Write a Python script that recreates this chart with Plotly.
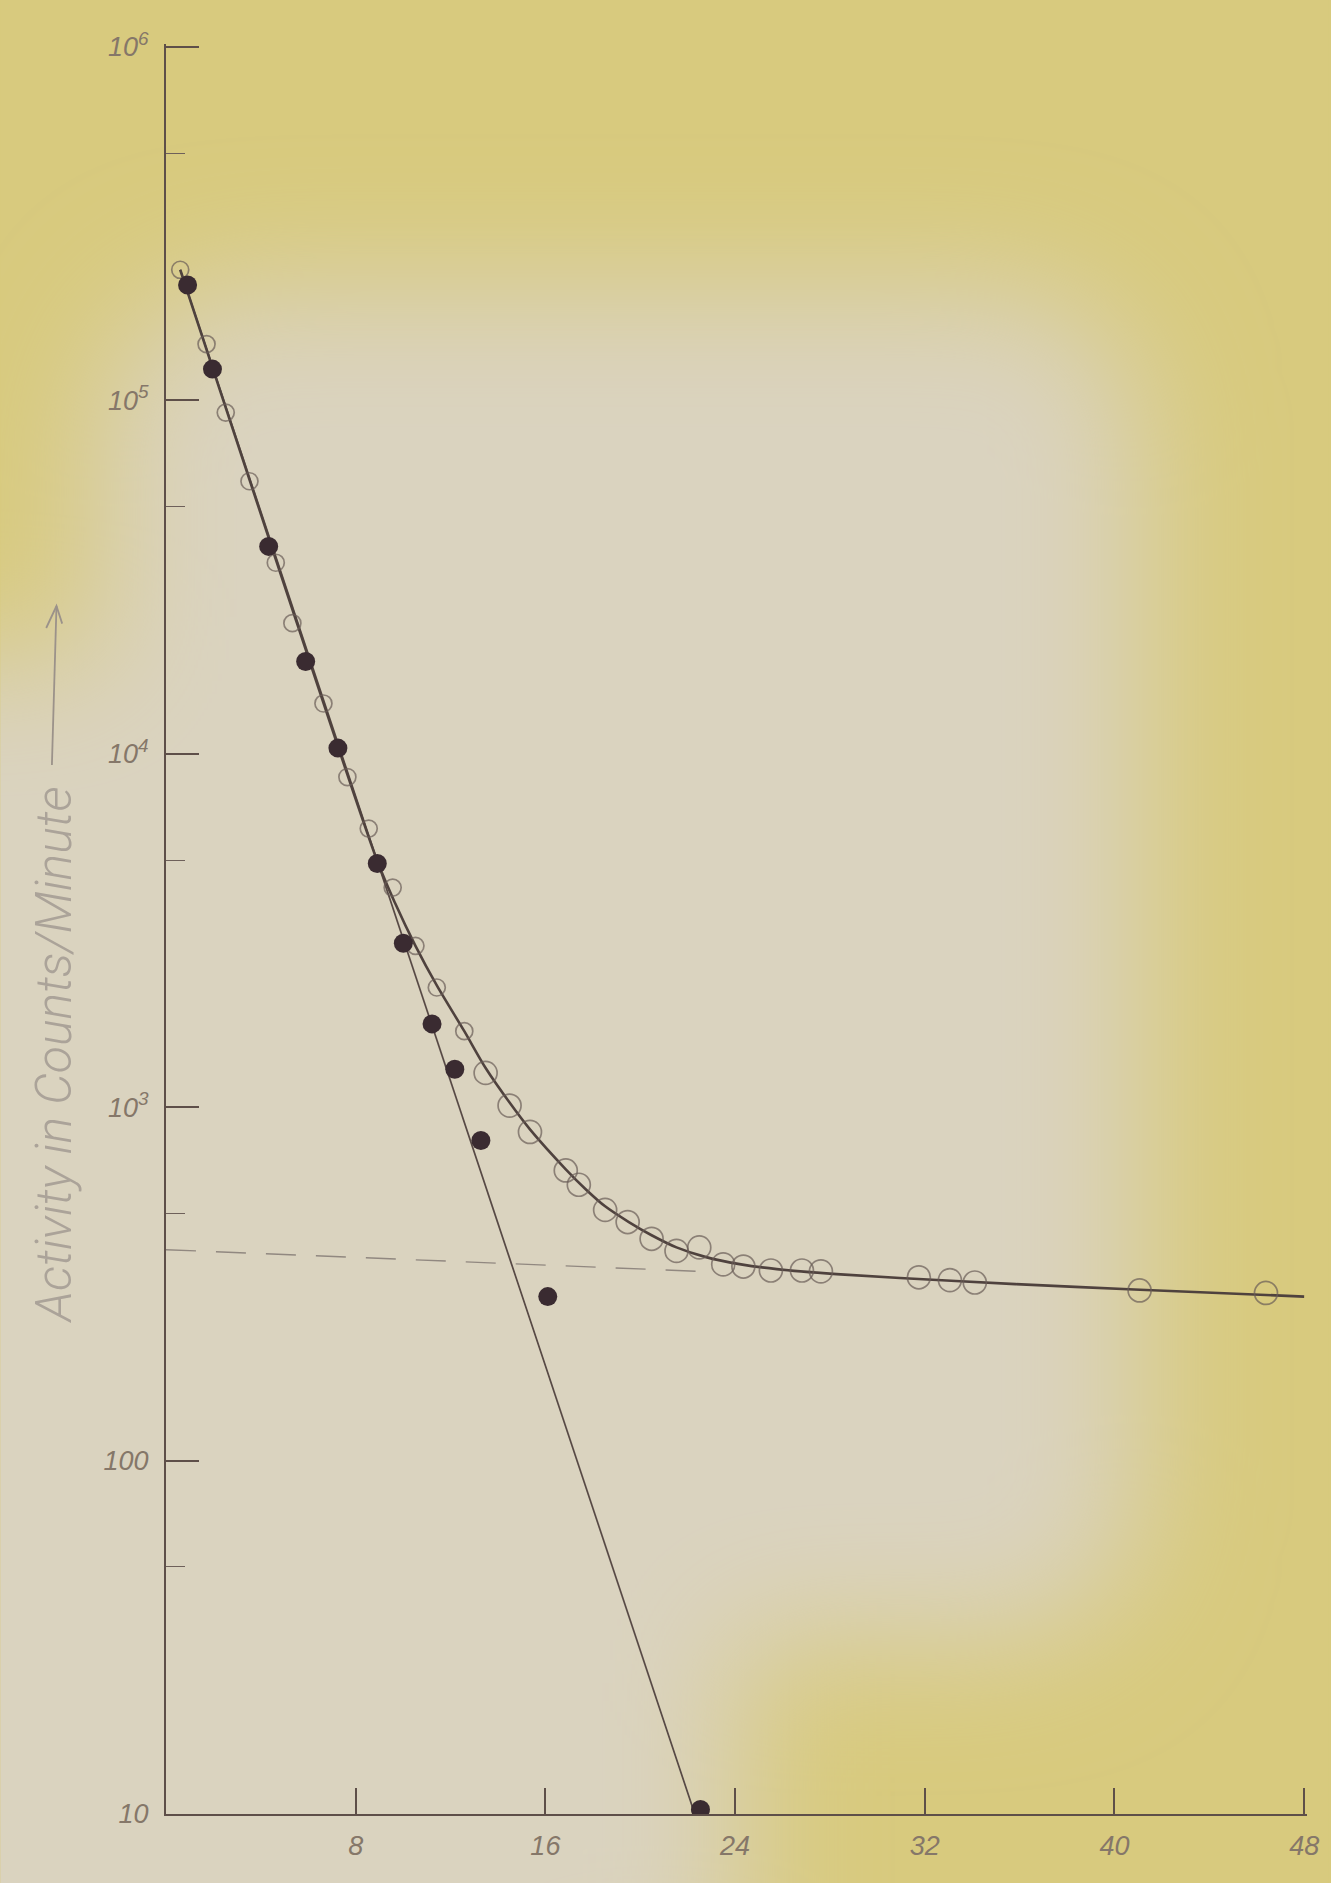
import base64
import plotly.graph_objects as go

# ---------------- data ----------------
# total activity (open circles): time, counts/minute
open_x = [0.60, 1.71, 2.52, 3.52, 4.63, 5.33, 6.64, 7.65, 8.55, 9.56, 10.52, 11.42,
          12.58, 13.48, 14.49, 15.35, 16.86, 17.41, 18.52, 19.47, 20.48, 21.53,
          22.49, 23.50, 24.35, 25.51, 26.82, 27.62, 31.75, 33.06, 34.11, 41.06, 46.39]
open_y = [234000, 144200, 92300, 59000, 34700, 23400, 13870, 8590, 6140, 4180, 2860, 2180,
          1640, 1250, 1010, 851, 662, 603, 512, 473, 424, 392,
          401, 359, 354, 345, 345, 343, 330, 324, 319, 303, 298]

# short-lived component (filled circles)
filled_x = [0.91, 1.96, 4.33, 5.89, 7.25, 8.91, 10.01, 11.22, 12.18, 13.28, 16.10, 22.54]
filled_y = [211800, 122500, 38600, 18240, 10370, 4890, 2910, 1720, 1280, 805, 291, 10.3]

# straight line through the short-lived component
short_x = [0.60, 22.30]
short_y = [234000, 10]

# smooth curve through the total activity
curve_x = [0.60, 4.63, 8.91, 9.66, 10.52, 11.42, 12.58, 13.48, 14.49, 15.35, 16.86, 17.71,
           18.52, 19.52, 20.48, 21.53, 22.74, 24.25, 25.76, 28.28, 33.31, 38.34, 43.37, 48.0]
curve_y = [234000, 35500, 4970, 3780, 2860, 2210, 1640, 1290, 1030, 865, 667, 585,
           524, 473, 434, 401, 377, 359, 348, 337, 322, 310, 300, 291]

# long-lived component extrapolated back (dashed)
long_x = [0.0, 23.0]
long_y = [395, 342]

x_ticks = [8, 16, 24, 32, 40, 48]
x_ticktext = ["8", "16", "24", "32", "40", "48"]
y_ticks = [10, 100, 1000, 10000, 100000, 1000000]
y_ticktext = ["10", "100", "10<sup>3</sup>", "10<sup>4</sup>", "10<sup>5</sup>", "10<sup>6</sup>"]
y_minor = [50, 500, 5000, 50000, 500000]

y_title = "Activity in Counts/Minute"

# ---------------- styling ----------------
W, H = 1331, 1883
ML, MR, MT, MB = 166, 22, 44, 69
PW, PH = W - ML - MR, H - MT - MB

INK = "#4f423e"
PENCIL = "#857769"

svg = f'''<svg xmlns="http://www.w3.org/2000/svg" width="{W}" height="{H}" viewBox="0 0 {W} {H}">
<defs><filter id="b" x="-50%" y="-50%" width="200%" height="200%"><feGaussianBlur stdDeviation="65"/></filter></defs>
<rect width="{W}" height="{H}" fill="#d8ca7e"/>
<g filter="url(#b)" fill="#dad3bf">
<rect x="100" y="290" width="1040" height="1350" rx="140"/>
<rect x="-250" y="660" width="820" height="1450"/>
<rect x="300" y="1400" width="440" height="600"/>
</g>
</svg>'''
bg_uri = "data:image/svg+xml;base64," + base64.b64encode(svg.encode()).decode()

fig = go.Figure()

fig.add_trace(go.Scatter(x=long_x, y=long_y, mode="lines",
                         line=dict(color="#918880", width=1.4, dash="30px,20px"),
                         hoverinfo="skip", showlegend=False))
fig.add_trace(go.Scatter(x=short_x, y=short_y, mode="lines",
                         line=dict(color="#574945", width=1.7),
                         hoverinfo="skip", showlegend=False))
fig.add_trace(go.Scatter(x=curve_x, y=curve_y, mode="lines",
                         line=dict(color=INK, width=2.6, shape="spline", smoothing=0.8),
                         hoverinfo="skip", showlegend=False))

open_sizes = [17 if v < 13 else 23 for v in open_x]
fig.add_trace(go.Scatter(x=open_x, y=open_y, mode="markers",
                         marker=dict(symbol="circle-open", size=open_sizes,
                                     color="#6a5c57", line=dict(width=1.7)),
                         name="total", showlegend=False))
fig.add_trace(go.Scatter(x=filled_x, y=filled_y, mode="markers",
                         marker=dict(symbol="circle", size=19, color="#3a2b31",
                                     line=dict(width=0)),
                         cliponaxis=True, name="short", showlegend=False))

tickfont = dict(family="Liberation Sans", size=27, color=PENCIL, style="italic")

# y title position (paper coords) and its arrow
tx = -112 / PW
ty = 1 - (1055 - MT) / PH
a_top = 1 - (606 - MT) / PH
a_bot = 1 - (765 - MT) / PH
ax_w = 8 / PW
ay_h = 22 / PH

fig.update_layout(
    width=W, height=H,
    margin=dict(l=ML, r=MR, t=MT, b=MB),
    paper_bgcolor="#d8ca7e",
    plot_bgcolor="rgba(0,0,0,0)",
    images=[dict(source=bg_uri, xref="paper", yref="paper",
                 x=-ML / PW, y=1 + MT / PH, sizex=W / PW, sizey=H / PH,
                 xanchor="left", yanchor="top", sizing="stretch", layer="below")],
    xaxis=dict(range=[0, 48.12], showgrid=False, zeroline=False,
               showline=True, linecolor="#5e4f49", linewidth=2.2,
               ticks="inside", ticklen=26, tickwidth=1.5, tickcolor="#5e4f49",
               tickmode="array", tickvals=x_ticks, ticktext=x_ticktext,
               tickfont=tickfont, ticklabelstandoff=6),
    yaxis=dict(type="log", range=[1, 6.008], showgrid=False, zeroline=False,
               showline=True, linecolor="#5e4f49", linewidth=2.2,
               ticks="inside", ticklen=33, tickwidth=1.5, tickcolor="#5e4f49",
               tickmode="array", tickvals=y_ticks, ticktext=y_ticktext,
               tickfont=tickfont, ticklabelstandoff=10,
               minor=dict(ticks="inside", ticklen=19, tickwidth=1.3,
                          tickcolor="#6e605a", tickmode="array", tickvals=y_minor)),
    annotations=[
        dict(text=y_title, xref="paper", yref="paper",
             x=tx, y=ty, textangle=-90, showarrow=False,
             font=dict(family="Roboto", size=50, weight=300, color="#aba399", style="italic"),
             xanchor="center", yanchor="middle"),
    ],
    shapes=[
        dict(type="line", xref="paper", yref="paper", x0=tx - 0.002, y0=a_bot, x1=tx + 0.002, y1=a_top,
             line=dict(color="#9b928a", width=1.8)),
        dict(type="path", xref="paper", yref="paper",
             path=f"M {tx - ax_w} {a_top - ay_h} L {tx + 0.002} {a_top} L {tx + ax_w} {a_top - ay_h * 0.8}",
             line=dict(color="#9b928a", width=1.8)),
    ],
)

fig.write_html("out.html", config={"displayModeBar": False},
               post_script="document.body.style.margin='0';document.body.style.padding='0';")
